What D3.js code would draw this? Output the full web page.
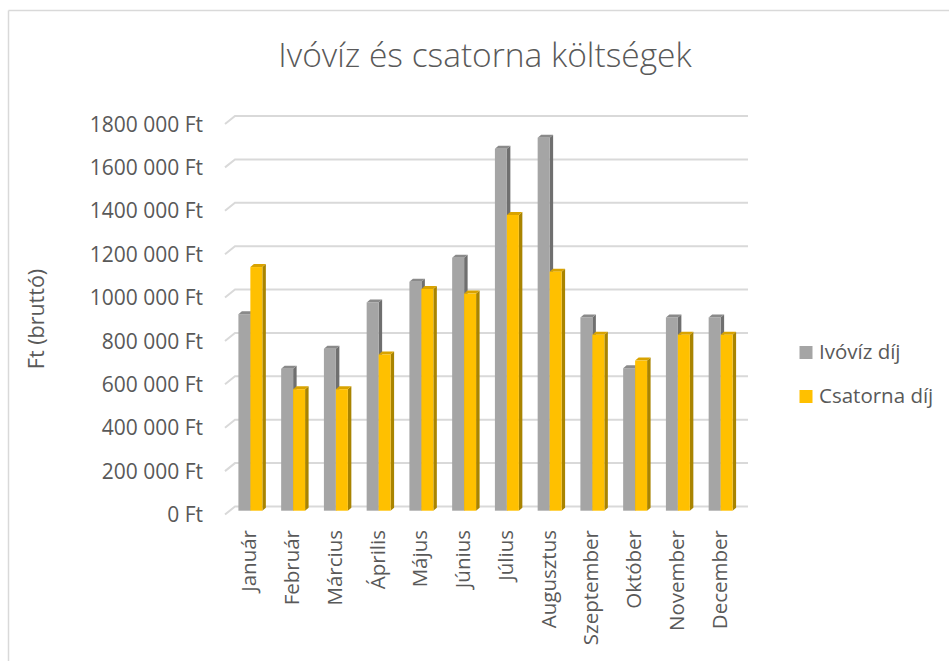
<!DOCTYPE html>
<html>
<head>
<meta charset="utf-8">
<script src="https://cdn.jsdelivr.net/npm/d3@7"></script>
<style>
  body { margin: 0; background: #fff; }
  text { font-family: "Open Sans", "Noto Sans", sans-serif; fill: #595959; }
</style>
</head>
<body>
<svg id="chart" width="949" height="661"></svg>
<script>
var months = ["Január", "Február", "Március", "Április", "Május", "Június",
              "Július", "Augusztus", "Szeptember", "Október", "November", "December"];
var ivovizDij = [906000, 654000, 746000, 960000, 1055000, 1166000,
                 1668000, 1719000, 891000, 657000, 891000, 891000];
var csatornaDij = [1123000, 560000, 560000, 720000, 1022000, 1001000,
                   1363000, 1102000, 811000, 692000, 811000, 811000];
var seriesNames = ["Ivóvíz díj", "Csatorna díj"];
var yTicks = [0, 200000, 400000, 600000, 800000, 1000000, 1200000, 1400000, 1600000, 1800000];

var svg = d3.select("#chart");

// chart frame (only top + left edge visible)
svg.append("line").attr("x1", 8.5).attr("y1", 10.5).attr("x2", 949).attr("y2", 10.5)
    .attr("stroke", "#d9d9d9").attr("stroke-width", 1.5);
svg.append("line").attr("x1", 8.5).attr("y1", 10.5).attr("x2", 8.5).attr("y2", 661)
    .attr("stroke", "#d9d9d9").attr("stroke-width", 1.5);

// back wall
var wallLeft = 235, wallRight = 748;
var depthX = -10, depthY = 8;     // floor depth (back -> front)
var y = d3.scaleLinear().domain([0, 1800000]).range([506.5, 116]);

var fmt = function (v) {
    return v === 0 ? "0 Ft" : Math.floor(v / 1000) + " 000 Ft";
};

var grid = svg.append("g");
yTicks.forEach(function (t) {
    var gy = y(t);
    grid.append("path")
        .attr("d", "M" + (wallLeft + depthX) + "," + (gy + depthY) + "L" + wallLeft + "," + gy + "L" + wallRight + "," + gy)
        .attr("fill", "none").attr("stroke", "#d9d9d9").attr("stroke-width", 2);
    grid.append("text")
        .attr("x", 203).attr("y", gy + depthY + 2)
        .attr("text-anchor", "end").attr("dominant-baseline", "middle")
        .style("font-size", "21px")
        .text(fmt(t));
});

// bars sit halfway into the floor depth
var bx = depthX / 2, by = depthY / 2 + 0.2;
var x = d3.scaleBand().domain(months)
    .range([wallLeft + bx - 1, wallRight + bx - 1])
    .paddingInner(0.44).paddingOuter(0.22);
var xs = d3.scaleBand().domain([0, 1]).range([0, x.bandwidth()]);

var sideX = 3.5, sideY = -3;
var colors = [
    { front: "#a5a5a5", side: "#6f6f6f", top: "#8a8a8a" },
    { front: "#ffc000", side: "#a98400", top: "#d9a300" }
];

var bars = svg.append("g");
months.forEach(function (m, i) {
    [ivovizDij[i], csatornaDij[i]].forEach(function (v, s) {
        var x0 = x(m) + xs(s), w = xs.bandwidth();
        var yb = y(0) + by, yt = y(v) + by;
        var c = colors[s];
        var g = bars.append("g");
        g.append("path")
            .attr("d", "M" + (x0 + w) + "," + yt + "L" + (x0 + w + sideX) + "," + (yt + sideY) +
                "L" + (x0 + w + sideX) + "," + (yb + sideY) + "L" + (x0 + w) + "," + yb + "Z")
            .attr("fill", c.side);
        g.append("path")
            .attr("d", "M" + x0 + "," + yt + "L" + (x0 + sideX) + "," + (yt + sideY) +
                "L" + (x0 + w + sideX) + "," + (yt + sideY) + "L" + (x0 + w) + "," + yt + "Z")
            .attr("fill", c.top);
        g.append("rect")
            .attr("x", x0).attr("y", yt)
            .attr("width", w).attr("height", yb - yt)
            .attr("fill", c.front);
    });
});

// category labels
svg.append("g").selectAll("text").data(months).enter().append("text")
    .attr("transform", function (d) {
        return "translate(" + (x(d) + x.bandwidth() / 2 + 6) + ",530) rotate(-90)";
    })
    .attr("text-anchor", "end")
    .style("font-size", "20.5px")
    .text(function (d) { return d; });

// axis title
svg.append("text")
    .attr("transform", "translate(44,319) rotate(-90)")
    .attr("text-anchor", "middle")
    .style("font-size", "21.5px")
    .text("Ft (bruttó)");

// chart title
svg.append("text")
    .attr("x", 485).attr("y", 67)
    .attr("text-anchor", "middle")
    .style("font-size", "33.5px").style("font-weight", 300)
    .text("Ivóvíz és csatorna költségek");

// legend
var legend = svg.append("g");
seriesNames.forEach(function (n, i) {
    var ly = 346 + i * 44;
    legend.append("rect").attr("x", 799.5).attr("y", ly)
        .attr("width", 13).attr("height", 13).attr("fill", colors[i].front);
    legend.append("text").attr("x", 819).attr("y", ly + 12.5)
        .style("font-size", "20.5px").text(n);
});
</script>
</body>
</html>
